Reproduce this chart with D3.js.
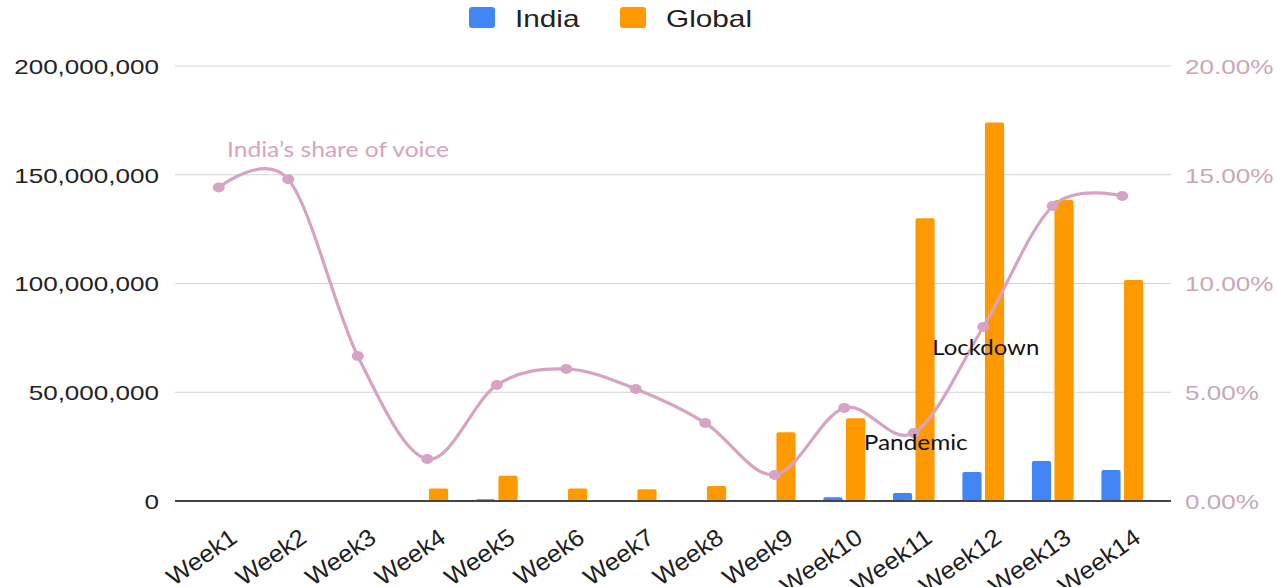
<!DOCTYPE html>
<html>
<head>
<meta charset="utf-8">
<script src="https://cdn.jsdelivr.net/npm/d3@7"></script>
<style>
  html, body { margin: 0; padding: 0; background: #fff; }
  svg { display: block; }
</style>
</head>
<body>
<svg id="chart" width="1278" height="587"></svg>
<script>
// Weekly mentions: India vs Global, plus India's share of voice
const weeks = ["Week1", "Week2", "Week3", "Week4", "Week5", "Week6", "Week7",
               "Week8", "Week9", "Week10", "Week11", "Week12", "Week13", "Week14"];
const indiaMentions = [30000, 40000, 20000, 110000, 800000, 350000, 280000,
                       250000, 380000, 1700000, 3700000, 13300000, 18400000, 14300000];
const globalMentions = [200000, 250000, 300000, 5800000, 11600000, 5800000, 5400000,
                        6900000, 31600000, 38000000, 130000000, 174000000, 138400000, 101600000];
const indiaShare = [0.1441, 0.1479, 0.0667, 0.0193, 0.0533, 0.0607, 0.0515,
                    0.0359, 0.0120, 0.0428, 0.0313, 0.0800, 0.1356, 0.1402];
const leftTicks = [0, 50000000, 100000000, 150000000, 200000000];
const rightTicks = [0, 0.05, 0.10, 0.15, 0.20];
const seriesNames = ["India", "Global"];
const notes = [
  { text: "Lockdown", week: "Week12" },
  { text: "Pandemic", week: "Week11" }
];

const colors = { India: "#4285f4", Global: "#ff9900" };
const lineColor = "#d6a4c2";
const stretch = 1.24;   // horizontal widening applied to the labels

const svg = d3.select("#chart");

const y = d3.scaleLinear().domain([0, 200000000]).range([501, 66]);
const yShare = d3.scaleLinear().domain([0, 0.20]).range([501, 66]);
const x0 = d3.scaleBand().domain(weeks).range([184, 1157])
  .paddingInner(0.4).paddingOuter(0.2);
const x1 = d3.scaleBand().domain(seriesNames).range([0, x0.bandwidth()]).paddingInner(0.15);

function widen(sel, factor = stretch) {
  sel.each(function () {
    const len = this.getComputedTextLength();
    d3.select(this).attr("textLength", len * factor).attr("lengthAdjust", "spacingAndGlyphs");
  });
}

// gridlines
svg.append("g").selectAll("line").data(leftTicks.slice(1)).join("line")
  .attr("x1", 175).attr("x2", 1171)
  .attr("y1", d => y(d)).attr("y2", d => y(d))
  .attr("stroke", "#d3d3d3").attr("stroke-width", 1.2);

// left axis labels
const leftAxis = svg.append("g").attr("transform", "translate(159,0)")
  .call(d3.axisLeft(y).tickValues(leftTicks).tickFormat(d3.format(",")).tickSize(0).tickPadding(0));
leftAxis.select(".domain").remove();
leftAxis.selectAll("text")
  .attr("x", 0).attr("dy", "0.35em")
  .style("font-family", "'Liberation Sans', Arial, sans-serif")
  .style("font-size", "21px").attr("fill", "#222")
  .call(widen);

// right axis labels
const rightAxis = svg.append("g").attr("transform", "translate(1185,0)")
  .call(d3.axisRight(yShare).tickValues(rightTicks).tickFormat(d3.format(".2%")).tickSize(0).tickPadding(0));
rightAxis.select(".domain").remove();
rightAxis.selectAll("text")
  .attr("x", 0).attr("dy", "0.35em")
  .style("font-family", "'Liberation Sans', Arial, sans-serif")
  .style("font-size", "21px").attr("fill", "#c9a7b9")
  .call(widen);

// bars
const groups = svg.append("g").selectAll("g").data(weeks).join("g")
  .attr("transform", d => `translate(${x0(d)},0)`);
groups.selectAll("rect")
  .data((w, i) => [
    { key: "India", value: indiaMentions[i] },
    { key: "Global", value: globalMentions[i] }
  ])
  .join("rect")
  .attr("x", d => x1(d.key))
  .attr("width", x1.bandwidth())
  .attr("y", d => y(d.value))
  .attr("height", d => y(0) - y(d.value))
  .attr("rx", 2)
  .attr("fill", d => colors[d.key]);

// baseline
svg.append("line")
  .attr("x1", 175).attr("x2", 1171)
  .attr("y1", y(0)).attr("y2", y(0))
  .attr("stroke", "#444").attr("stroke-width", 2);

// share-of-voice line
const cx = w => x0(w) + x0.bandwidth() / 2;
const line = d3.line()
  .x((d, i) => cx(weeks[i]))
  .y(d => yShare(d))
  .curve(d3.curveCardinal.tension(0));
svg.append("path").datum(indiaShare)
  .attr("d", line)
  .attr("fill", "none")
  .attr("stroke", lineColor)
  .attr("stroke-width", 3.2)
  .attr("stroke-linecap", "round");
svg.append("g").selectAll("ellipse").data(indiaShare).join("ellipse")
  .attr("cx", (d, i) => cx(weeks[i]))
  .attr("cy", d => yShare(d))
  .attr("rx", 6).attr("ry", 5)
  .attr("fill", lineColor);

// x labels
svg.append("g").selectAll("text").data(weeks).join("text")
  .attr("transform", d => `translate(${cx(d) + 20},541) rotate(-35)`)
  .attr("text-anchor", "end")
  .style("font-family", "'Liberation Sans', Arial, sans-serif")
  .style("font-size", "24px").attr("fill", "#1e1e1e")
  .text(d => d)
  .call(widen, 1.07);

// legend
const legend = svg.append("g");
const legendX = { India: 469, Global: 620 };
seriesNames.forEach(name => {
  legend.append("rect")
    .attr("x", legendX[name]).attr("y", 7)
    .attr("width", 26).attr("height", 21).attr("rx", 3)
    .attr("fill", colors[name]);
  legend.append("text")
    .attr("x", legendX[name] + 46).attr("y", 27)
    .style("font-family", "'Liberation Sans', Arial, sans-serif")
    .style("font-size", "24px").attr("fill", "#222")
    .text(name)
    .call(widen);
});

// series title
svg.append("text")
  .attr("x", 227).attr("y", 157)
  .style("font-family", "Lato, 'Open Sans', sans-serif")
  .style("font-size", "22px").attr("fill", "#d9a3c0")
  .text("India’s share of voice")
  .attr("textLength", 222).attr("lengthAdjust", "spacingAndGlyphs");

// annotations
svg.append("g").selectAll("text").data(notes).join("text")
  .attr("x", d => d.text === "Lockdown" ? cx(d.week) - 51 : cx(d.week) - 50)
  .attr("y", d => d.text === "Lockdown" ? 355 : 450)
  .style("font-family", "Lato, 'Open Sans', sans-serif")
  .style("font-size", "22px").attr("fill", "#111")
  .text(d => d.text)
  .attr("textLength", d => d.text === "Lockdown" ? 107 : 104)
  .attr("lengthAdjust", "spacingAndGlyphs");
</script>
</body>
</html>
